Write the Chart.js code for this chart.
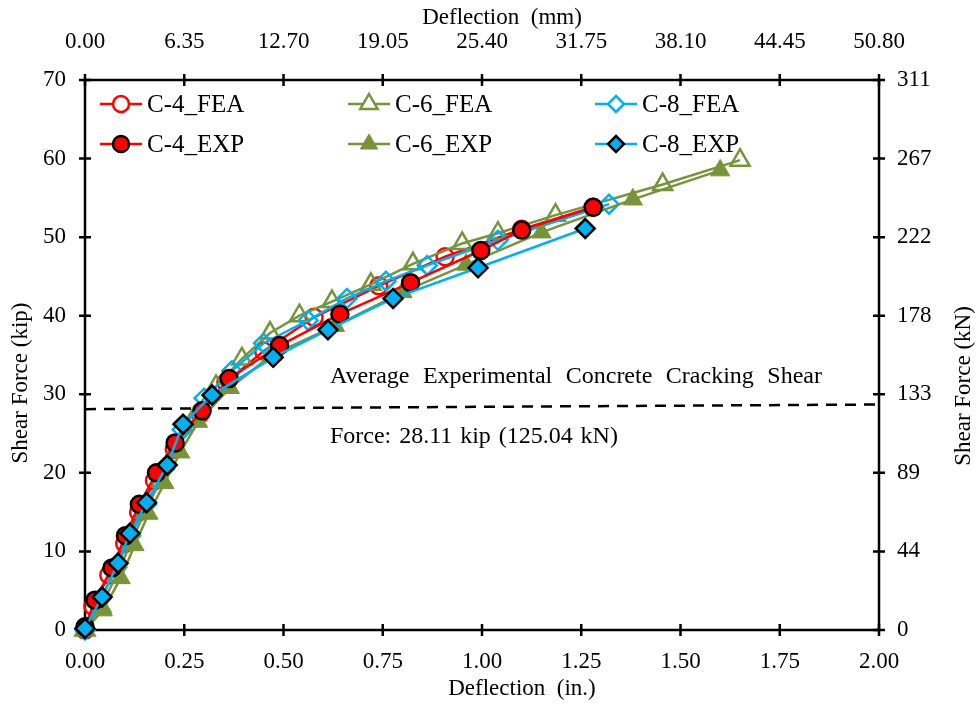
<!DOCTYPE html>
<html lang="en">
<head>
<meta charset="UTF-8">
<title>Shear Force vs Deflection</title>
<script src="https://cdn.jsdelivr.net/npm/chart.js@4"></script>
<style>
  body { margin: 0; background: #fff; }
  #wrap { width: 979px; height: 705px; }
</style>
</head>
<body>
<div id="wrap"><canvas id="chart" width="979" height="705"></canvas></div>
<script>
// deflection (in.) and shear force (kip)
const c4FeaX = [0, 0.02, 0.06, 0.10, 0.135, 0.175, 0.225, 0.29, 0.355, 0.45, 0.577, 0.74, 0.907, 1.10, 1.28];
const c4FeaY = [0, 3.0, 7.0, 11.0, 15.0, 19.0, 23.0, 27.5, 31.5, 35.5, 39.8, 43.8, 47.5, 51.0, 53.8];

const c6FeaX = [0, 0.04, 0.08, 0.115, 0.15, 0.19, 0.23, 0.275, 0.33, 0.395, 0.466, 0.54, 0.622, 0.72, 0.826, 0.95, 1.04, 1.185, 1.455, 1.65];
const c6FeaY = [0, 3.0, 7.0, 11.0, 15.0, 19.0, 23.0, 27.0, 31.0, 34.5, 37.8, 40.0, 41.8, 44.0, 46.6, 49.2, 50.5, 52.8, 56.7, 59.8];

const c8FeaX = [0, 0.04, 0.08, 0.115, 0.155, 0.20, 0.245, 0.30, 0.37, 0.45, 0.562, 0.66, 0.758, 0.862, 1.04, 1.32];
const c8FeaY = [0, 4.0, 8.0, 12.0, 16.0, 20.5, 25.5, 29.5, 33.0, 36.5, 39.4, 42.2, 44.4, 46.4, 49.6, 54.2];

const c4ExpX = [0, 0.025, 0.068, 0.102, 0.137, 0.18, 0.227, 0.295, 0.363, 0.49, 0.642, 0.82, 0.997, 1.10, 1.28];
const c4ExpY = [0.4, 3.8, 7.9, 12.0, 16.0, 20.0, 23.8, 27.9, 32.0, 36.2, 40.2, 44.2, 48.3, 50.9, 53.8];

const c6ExpX = [0, 0.045, 0.09, 0.125, 0.16, 0.20, 0.24, 0.285, 0.365, 0.47, 0.63, 0.80, 0.96, 1.15, 1.38, 1.60];
const c6ExpY = [0, 2.5, 6.6, 10.8, 14.8, 18.7, 22.6, 26.5, 30.8, 35.0, 38.7, 43.0, 46.5, 50.6, 54.8, 58.5];

const c8ExpX = [0, 0.043, 0.083, 0.113, 0.155, 0.207, 0.247, 0.32, 0.474, 0.612, 0.776, 0.99, 1.26];
const c8ExpY = [0.2, 4.2, 8.5, 12.3, 16.2, 21.0, 26.2, 29.9, 34.7, 38.2, 42.2, 46.1, 51.1];

// average cracking shear line
const crackX = [0, 2.0];
const crackY = [28.11, 28.7];

const xTicks = [0, 0.25, 0.5, 0.75, 1.0, 1.25, 1.5, 1.75, 2.0];
const yTicks = [0, 10, 20, 30, 40, 50, 60, 70];

const RED = '#FF0000';
const OLIVE = '#77933C';
const BLUE = '#00B0F0';
const FONT = "'Liberation Serif', 'Times New Roman', serif";

function pts(xs, ys) {
    return xs.map((x, i) => ({ x: x, y: ys[i] }));
}

function series(label, xs, ys, color, style, open, order) {
    const isTri = style === 'triangle';
    return {
        label: label,
        data: pts(xs, ys),
        showLine: true,
        borderColor: color,
        borderWidth: 2.5,
        pointStyle: style,
        pointRadius: isTri ? 11 : (style === 'rectRot' ? 9.5 : 8.5),
        pointBackgroundColor: open ? 'rgba(0,0,0,0)' : color,
        pointBorderColor: open ? color : (isTri ? color : '#000'),
        pointBorderWidth: open ? 2.5 : (isTri ? 1 : 2.5),
        clip: false,
        order: order
    };
}

const datasets = [
    series('C-4_FEA', c4FeaX, c4FeaY, RED, 'circle', true, 5),
    series('C-6_FEA', c6FeaX, c6FeaY, OLIVE, 'triangle', true, 4),
    series('C-8_FEA', c8FeaX, c8FeaY, BLUE, 'rectRot', true, 3),
    series('C-4_EXP', c4ExpX, c4ExpY, RED, 'circle', false, 1),
    series('C-6_EXP', c6ExpX, c6ExpY, OLIVE, 'triangle', false, 2),
    series('C-8_EXP', c8ExpX, c8ExpY, BLUE, 'rectRot', false, 0),
    {
        label: 'crack',
        data: pts(crackX, crackY),
        showLine: true,
        borderColor: '#000',
        borderWidth: 2.5,
        borderDash: [11, 8],
        pointRadius: 0,
        order: 6
    }
];

function drawMarker(ctx, style, x, y, r, fill, stroke, lw) {
    ctx.beginPath();
    if (style === 'circle') {
        ctx.arc(x, y, r, 0, Math.PI * 2);
    } else if (style === 'triangle') {
        ctx.moveTo(x, y - r);
        ctx.lineTo(x + r * 0.866, y + r * 0.5);
        ctx.lineTo(x - r * 0.866, y + r * 0.5);
        ctx.closePath();
    } else {
        ctx.moveTo(x, y - r);
        ctx.lineTo(x + r, y);
        ctx.lineTo(x, y + r);
        ctx.lineTo(x - r, y);
        ctx.closePath();
    }
    ctx.fillStyle = fill;
    ctx.fill();
    if (lw) {
        ctx.lineWidth = lw;
        ctx.strokeStyle = stroke;
        ctx.stroke();
    }
}

// frame with ticks crossing the axis line
const framePlugin = {
    id: 'frame',
    beforeDatasetsDraw(chart) {
        const ctx = chart.ctx;
        const a = chart.chartArea;
        const s = chart.scales;
        ctx.save();
        ctx.strokeStyle = '#000';
        ctx.lineWidth = 2.5;
        ctx.strokeRect(a.left, a.top, a.right - a.left, a.bottom - a.top);
        ctx.beginPath();
        s.x.ticks.forEach(t => {
            const px = s.x.getPixelForValue(t.value);
            ctx.moveTo(px, a.bottom - 6); ctx.lineTo(px, a.bottom + 6);
            ctx.moveTo(px, a.top - 6); ctx.lineTo(px, a.top + 6);
        });
        s.y.ticks.forEach(t => {
            const py = s.y.getPixelForValue(t.value);
            ctx.moveTo(a.left - 6, py); ctx.lineTo(a.left + 6, py);
            ctx.moveTo(a.right - 6, py); ctx.lineTo(a.right + 6, py);
        });
        ctx.stroke();
        ctx.restore();
    },
    afterDraw(chart) {
        const ctx = chart.ctx;
        const s = chart.scales;
        ctx.save();
        ctx.fillStyle = '#000';

        // axis titles
        ctx.font = '23px ' + FONT;
        ctx.textAlign = 'center';
        ctx.textBaseline = 'middle';
        ctx.fillText('Deflection  (mm)', 502, 18);
        ctx.fillText('Deflection  (in.)', 522, 689);
        ctx.save();
        ctx.translate(21, 383);
        ctx.rotate(-Math.PI / 2);
        ctx.fillText('Shear Force (kip)', 0, 0);
        ctx.restore();
        ctx.save();
        ctx.translate(964, 386);
        ctx.rotate(-Math.PI / 2);
        ctx.fillText('Shear Force (kN)', 0, 0);
        ctx.restore();

        // annotation, justified like the original text box
        ctx.font = '24px ' + FONT;
        ctx.textAlign = 'left';
        const lines = [
            { words: ['Average', 'Experimental', 'Concrete', 'Cracking', 'Shear'], y: 32.3, w: 492 },
            { words: ['Force:', '28.11', 'kip', '(125.04', 'kN)'], y: 24.6, w: 288 }
        ];
        const x0 = s.x.getPixelForValue(0.617);
        lines.forEach(l => {
            const widths = l.words.map(w => ctx.measureText(w).width);
            const sum = widths.reduce((p, q) => p + q, 0);
            const gap = (l.w - sum) / (l.words.length - 1);
            let px = x0;
            const py = s.y.getPixelForValue(l.y);
            l.words.forEach((w, i) => {
                ctx.fillText(w, px, py);
                px += widths[i] + gap;
            });
        });

        // legend, three columns by two rows inside the plot
        const colX = [100, 348, 595];
        const rowY = [104, 144];
        ctx.font = '25px ' + FONT;
        chart.data.datasets.slice(0, 6).forEach((ds, i) => {
            const lx = colX[i % 3];
            const ly = rowY[Math.floor(i / 3)];
            ctx.strokeStyle = ds.borderColor;
            ctx.lineWidth = 2.5;
            ctx.beginPath();
            ctx.moveTo(lx, ly); ctx.lineTo(lx + 42, ly);
            ctx.stroke();
            const r = ds.pointStyle === 'triangle' ? 10 : 8;
            drawMarker(ctx, ds.pointStyle, lx + 21, ly, r,
                ds.pointBackgroundColor === 'rgba(0,0,0,0)' ? '#fff' : ds.pointBackgroundColor,
                ds.pointBorderColor, ds.pointBorderWidth);
            ctx.fillStyle = '#000';
            ctx.fillText(ds.label, lx + 47, ly + 1);
        });
        ctx.restore();
    }
};

function fixWidth(w) { return scale => { scale.width = w; }; }
function fixHeight(h) { return scale => { scale.height = h; }; }

const tickFont = { family: FONT, size: 23 };
const noGrid = { display: false, drawTicks: false, tickLength: 0 };

new Chart(document.getElementById('chart'), {
    type: 'scatter',
    data: { datasets: datasets },
    options: {
        responsive: false,
        animation: false,
        layout: { padding: 0 },
        plugins: { legend: { display: false }, tooltip: { enabled: false } },
        scales: {
            x: {
                type: 'linear', position: 'bottom', min: 0, max: 2,
                afterFit: fixHeight(75),
                afterBuildTicks: sc => { sc.ticks = xTicks.map(v => ({ value: v })); },
                grid: noGrid, border: { display: false },
                ticks: { font: tickFont, color: '#000', padding: 18, maxRotation: 0,
                         callback: v => v.toFixed(2) }
            },
            x2: {
                type: 'linear', position: 'top', min: 0, max: 2,
                afterFit: fixHeight(80),
                afterBuildTicks: sc => { sc.ticks = xTicks.map(v => ({ value: v })); },
                grid: noGrid, border: { display: false },
                ticks: { font: tickFont, color: '#000', padding: 24, maxRotation: 0,
                         callback: v => (v * 25.4).toFixed(2) }
            },
            y: {
                type: 'linear', position: 'left', min: 0, max: 70,
                afterFit: fixWidth(85),
                afterBuildTicks: sc => { sc.ticks = yTicks.map(v => ({ value: v })); },
                grid: noGrid, border: { display: false },
                ticks: { font: tickFont, color: '#000', padding: 19,
                         callback: v => String(v) }
            },
            y2: {
                type: 'linear', position: 'right', min: 0, max: 70,
                afterFit: fixWidth(100),
                afterBuildTicks: sc => { sc.ticks = yTicks.map(v => ({ value: v })); },
                grid: noGrid, border: { display: false },
                ticks: { font: tickFont, color: '#000', padding: 18,
                         callback: v => String(Math.round(v * 4.448)) }
            }
        }
    },
    plugins: [framePlugin]
});
</script>
</body>
</html>
